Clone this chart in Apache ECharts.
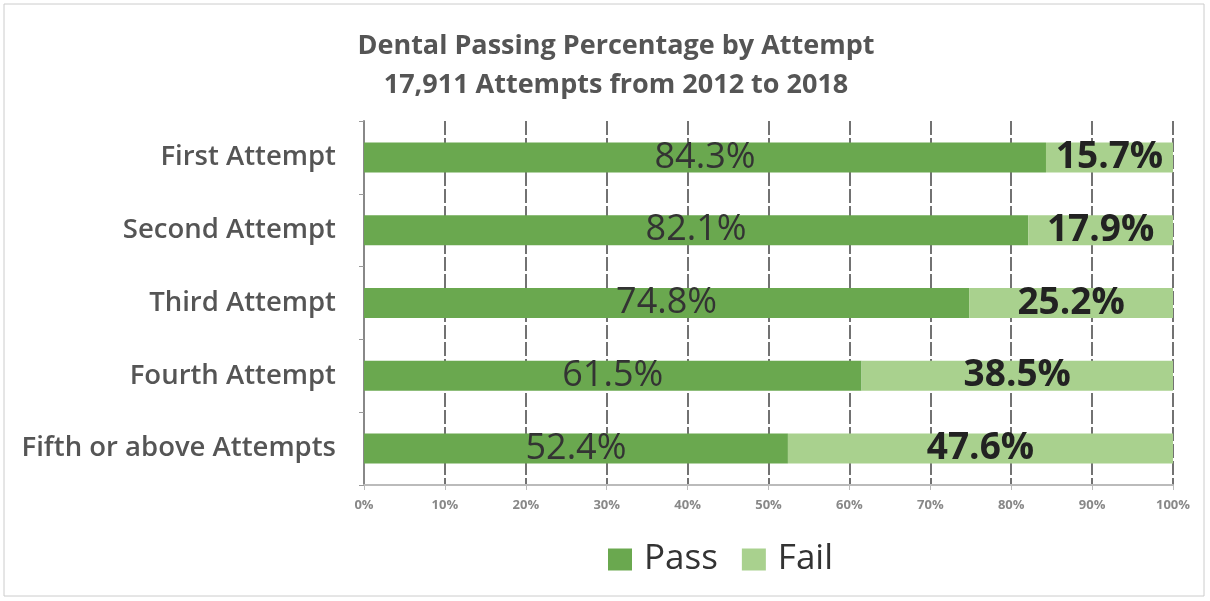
<!DOCTYPE html>
<html><head><meta charset="utf-8">
<script src="https://cdn.jsdelivr.net/npm/echarts@6/dist/echarts.min.js"></script>
<style>html,body{margin:0;padding:0;background:#fff}#c{width:1210px;height:601px}</style>
</head><body><div id="c"></div>
<script>
const categories = ['First Attempt','Second Attempt','Third Attempt','Fourth Attempt','Fifth or above Attempts'];
const passValues = [84.3, 82.1, 74.8, 61.5, 52.4];
const failValues = [15.7, 17.9, 25.2, 38.5, 47.6];
const xTicks = [0,10,20,30,40,50,60,70,80,90,100];

const chart = echarts.init(document.getElementById('c'));
chart.setOption({
  backgroundColor:'#fff',
  animation:false,
  title:{
    text:'Dental Passing Percentage by Attempt\n17,911 Attempts from 2012 to 2018',
    left:611, top:22, textAlign:'center',
    textStyle:{fontFamily:'Open Sans',fontWeight:'bold',fontSize:27,color:'#555',lineHeight:39}
  },
  legend:{
    data:['Pass','Fail'], left:603, top:537, itemWidth:24, itemHeight:22, itemGap:24,
    textStyle:{fontFamily:'Open Sans',fontSize:35,color:'#333',padding:[0,0,0,7]}, icon:'rect'
  },
  grid:{left:364, right:37, top:121, bottom:116},
  xAxis:{
    type:'value', min:0, max:100, interval:10,
    axisLabel:{formatter:'{value}%', fontFamily:'Open Sans', fontWeight:'bold', fontSize:13, color:'#888', margin:14},
    splitLine:{show:true, lineStyle:{color:'#444', width:1.5, type:[14,3]}},
    axisLine:{show:true, lineStyle:{color:'#bbb', width:2}}, axisTick:{show:true, length:5, lineStyle:{color:'#bbb'}}
  },
  yAxis:{
    type:'category', data:categories, inverse:true,
    axisLine:{show:true, lineStyle:{color:'#888', width:2}},
    axisTick:{show:true, length:5, lineStyle:{color:'#999'}},
    axisLabel:{fontFamily:'Open Sans', fontWeight:600, fontSize:27.5, color:'#555', margin:28}
  },
  graphic:[{type:'rect', shape:{x:4,y:4,width:1200,height:592}, style:{fill:'none', stroke:'#ccc', lineWidth:1}, silent:true}],
  series:[
    {name:'Pass', type:'bar', stack:'t', data:passValues, barWidth:30, itemStyle:{color:'#6aa84f'},
     label:{show:true, position:'inside', formatter:'{c}%', fontFamily:'Open Sans', fontSize:36, color:'#333'}},
    {name:'Fail', type:'bar', stack:'t', data:failValues, barWidth:30, itemStyle:{color:'#a9d18e'},
     label:{show:true, position:'inside', formatter:'{c}%', fontFamily:'Open Sans', fontWeight:'bold', fontSize:37, color:'#222'}}
  ]
});
</script></body></html>
